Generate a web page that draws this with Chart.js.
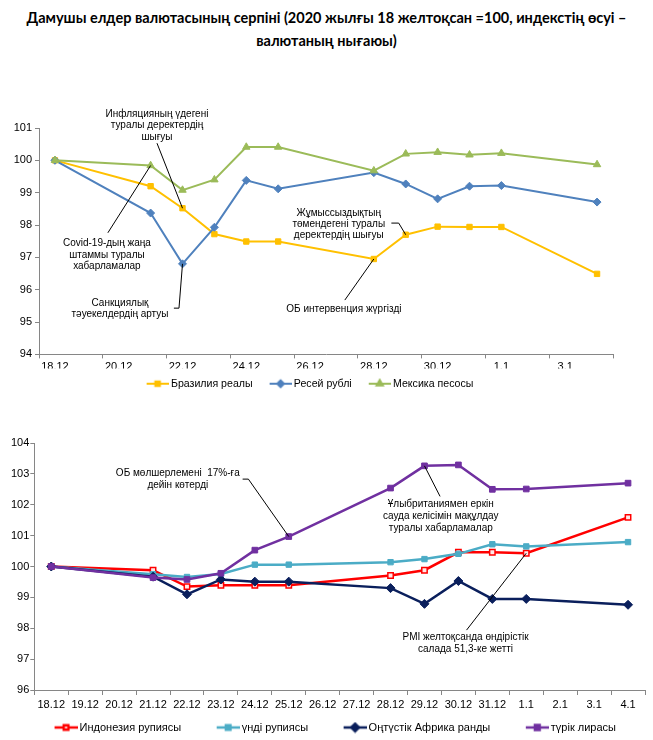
<!DOCTYPE html>
<html>
<head>
<meta charset="utf-8">
<script src="https://cdn.jsdelivr.net/npm/chart.js@4.4.1/dist/chart.umd.min.js"></script>
<style>
html,body{margin:0;padding:0;background:#fff;overflow:hidden;}
#wrap{position:relative;width:653px;height:740px;overflow:hidden;background:#fff;}
#title{position:absolute;left:0;top:6px;width:653px;text-align:center;font-family:Lato,"Noto Sans",sans-serif;font-weight:bold;font-size:15px;line-height:23px;color:#000;white-space:nowrap;}
#box1{position:absolute;left:0;top:95px;width:653px;height:304px;}
#box2{position:absolute;left:0;top:425px;width:653px;height:318px;}
</style>
</head>
<body>
<div id="wrap">
  <div id="title"><span id="t1">Дамушы елдер валютасының серпіні (2020 жылғы 18 желтоқсан =100, индекстің өсуі –</span><br><span id="t2">валютаның нығаюы)</span></div>
  <div id="box1"><canvas id="c1"></canvas></div>
  <div id="box2"><canvas id="c2"></canvas></div>
</div>
<script>
// ---------- DATA ----------
const axisDays = ['18.12','19.12','20.12','21.12','22.12','23.12','24.12','25.12','26.12','27.12','28.12','29.12','30.12','31.12','1.1','2.1','3.1','4.1'];
const obsDates = ['18.12','21.12','22.12','23.12','24.12','25.12','28.12','29.12','30.12','31.12','1.1','4.1'];
const topTickLabels = ['18.12','20.12','22.12','24.12','26.12','28.12','30.12','1.1','3.1'];

const topNames = ['Бразилия реалы','Ресей рублі','Мексика песосы'];
const brlReal  = [100.00, 99.20, 98.52, 97.72, 97.49, 97.49, 96.95, 97.70, 97.95, 97.94, 97.94, 96.49];
const rubRuble = [100.00, 98.37, 96.80, 97.93, 99.38, 99.12, 99.62, 99.27, 98.81, 99.20, 99.22, 98.71];
const mxnPeso  = [100.00, 99.84, 99.08, 99.40, 100.41, 100.41, 99.68, 100.20, 100.25, 100.17, 100.22, 99.87];

const bottomNames = ['Индонезия рупиясы','үнді рупиясы','Оңтүстік Африка ранды','түрік лирасы'];
const idrRupiah = [100.00, 99.88, 99.35, 99.39, 99.39, 99.39, 99.71, 99.88, 100.46, 100.46, 100.43, 101.59];
const inrRupee  = [100.00, 99.75, 99.66, 99.76, 100.06, 100.06, 100.14, 100.24, 100.41, 100.72, 100.65, 100.79];
const zarRand   = [100.00, 99.67, 99.10, 99.58, 99.51, 99.51, 99.30, 98.79, 99.53, 98.95, 98.95, 98.76];
const tryLira   = [100.00, 99.64, 99.58, 99.78, 100.53, 100.97, 102.54, 103.26, 103.29, 102.50, 102.51, 102.70];

const topYRange = [94, 101];
const bottomYRange = [96, 104];

// ---------- annotations (text in scale units, leader ends on a data point) ----------
const topNotes = [
  {lines:['Инфляцияның үдегені','туралы деректердің','шығуы'], at:[3.20,101.07], path:[[3.20,100.53]], series:0, date:'22.12'},
  {lines:['Covid-19-дың жаңа','штаммы туралы','хабарламалар'], at:[1.63,97.08], path:[[1.66,97.76]], series:2, date:'21.12'},
  {lines:['Санкциялық','тәуекелдердің артуы'], at:[2.04,95.415], path:[[3.73,95.43],[3.89,95.43]], series:1, date:'22.12'},
  {lines:['Жұмыссыздықтың','төмендегені туралы','деректердің шығуы'], at:[8.90,98.03], path:[[10.55,98.06],[10.78,98.06]], series:0, date:'29.12'},
  {lines:['ОБ интервенция жүргізді'], at:[9.06,95.41], path:[[9.09,95.68]], series:0, date:'28.12'}
];
const bottomNotes = [
  {lines:['ОБ мөлшерлемені  17%-ға','дейін көтерді'], at:[3.73,102.81], path:[[5.64,102.83],[5.81,102.83]], series:3, date:'25.12'},
  {lines:['Ұлыбританиямен еркін','сауда келісімін мақұлдау','туралы хабарламалар'], at:[11.48,101.63], path:[[11.46,102.27]], series:3, date:'29.12'},
  {lines:['PMI желтоқсанда өндірістік','салада 51,3-ке жетті'], at:[12.21,97.50], path:[[12.24,97.94]], series:0, date:'1.1'}
];

// ---------- helpers ----------
const FONT = '"Liberation Sans", Arial, sans-serif';
const axisColor = '#868686';

// fit title width to reference
(function(){
  const t1 = document.getElementById('t1');
  const w = t1.getBoundingClientRect().width;
  const fs = 15 * 600 / w;
  document.getElementById('title').style.fontSize = fs.toFixed(2) + 'px';
})();

function makeNotes(items, font, lh) {
  return {
    id: 'notes',
    afterDatasetsDraw(chart) {
      const xs = chart.scales.x, ys = chart.scales.y, ctx = chart.ctx;
      ctx.save();
      ctx.font = font; ctx.fillStyle = '#000'; ctx.textAlign = 'center'; ctx.textBaseline = 'middle';
      ctx.strokeStyle = '#000'; ctx.lineWidth = 1;
      items.forEach(n => {
        const el = chart.getDatasetMeta(n.series).data[obsDates.indexOf(n.date)];
        const pts = n.path.map(p => [xs.getPixelForValue(p[0]), ys.getPixelForValue(p[1])]);
        pts.push([el.x, el.y]);
        ctx.beginPath();
        ctx.moveTo(pts[0][0], pts[0][1]);
        for (let i = 1; i < pts.length; i++) ctx.lineTo(pts[i][0], pts[i][1]);
        ctx.stroke();
        const cx = xs.getPixelForValue(n.at[0]), cy = ys.getPixelForValue(n.at[1]);
        n.lines.forEach((t, k) => ctx.fillText(t, cx, cy + (k - (n.lines.length - 1) / 2) * lh));
      });
      ctx.restore();
    }
  };
}

function legendIcon(color, style, radius, fill, lineW, Wi, markerW) {
  const c = document.createElement('canvas');
  c.width = Wi; c.height = 12;
  const g = c.getContext('2d');
  const x0 = Wi - markerW;
  g.strokeStyle = color; g.lineWidth = lineW;
  g.beginPath(); g.moveTo(x0, 6); g.lineTo(Wi, 6); g.stroke();
  g.fillStyle = fill; g.strokeStyle = color;
  Chart.helpers.drawPoint(g, {pointStyle: style, radius: radius, borderWidth: 1}, x0 + markerW / 2, 6);
  return c;
}

function series(name, values, color, style, radius, fill, lw, n, i) {
  return {
    label: name,
    data: obsDates.map((d, k) => ({x: d, y: values[k]})),
    borderColor: color, backgroundColor: fill,
    borderWidth: lw, tension: 0,
    pointStyle: style, pointRadius: radius, pointHoverRadius: radius,
    pointBackgroundColor: fill, pointBorderColor: color, pointBorderWidth: 1,
    order: n - i
  };
}

function legendOpts(icons, W, fs) {
  return {
    position: 'bottom',
    labels: {
      usePointStyle: true, pointStyleWidth: W, boxHeight: 11, padding: 10,
      color: '#000', font: {family: FONT, size: fs},
      sort: (a, b) => a.datasetIndex - b.datasetIndex,
      generateLabels(chart) {
        const items = Chart.defaults.plugins.legend.labels.generateLabels(chart);
        items.forEach(it => { it.pointStyle = icons[it.datasetIndex]; });
        return items;
      }
    }
  };
}

// ---------- top chart ----------
const topStyles = [
  ['#FFC000','rect',3.8,'#FFC000'],
  ['#4F81BD','rectRot',4,'#4F81BD'],
  ['#9BBB59','triangle',4.3,'#9BBB59']
];
const topVals = [brlReal, rubRuble, mxnPeso];
const topIcons = topStyles.map(s => legendIcon(s[0], s[1], s[2] * 0.85, s[3], 2, 26 + 6, 22));

new Chart(document.getElementById('c1'), {
  type: 'line',
  data: {
    labels: axisDays,
    datasets: topVals.map((v, i) => series(topNames[i], v, topStyles[i][0], topStyles[i][1], topStyles[i][2], topStyles[i][3], 2, 3, i))
  },
  options: {
    responsive: true, maintainAspectRatio: false, animation: false,
    layout: {padding: {left: 0, right: 40, top: 33, bottom: 0}},
    plugins: {legend: legendOpts(topIcons, 26, 10.6), tooltip: {enabled: false}, title: {display: false}},
    scales: {
      x: {
        type: 'category', offset: true,
        grid: {offset: true, drawOnChartArea: false, drawTicks: true, tickLength: 4, color: axisColor,
               tickColor: c => (c.index === undefined || c.index % 2 === 0) ? axisColor : 'rgba(0,0,0,0)'},
        border: {display: true, color: axisColor},
        ticks: {autoSkip: false, maxRotation: 0, padding: 2, color: '#000', font: {family: FONT, size: 11},
                callback: (v, i) => topTickLabels.includes(axisDays[i]) ? axisDays[i] : ''},
        afterFit: s => { s.height = 14; }
      },
      y: {
        min: topYRange[0], max: topYRange[1],
        grid: {drawOnChartArea: false, drawTicks: true, tickLength: 4, color: axisColor},
        border: {display: true, color: axisColor},
        ticks: {stepSize: 1, padding: 3, color: '#000', font: {family: FONT, size: 11}},
        afterFit: s => { s.width = 39; }
      }
    }
  },
  plugins: [makeNotes(topNotes, '10px ' + FONT, 11.3)]
});

// ---------- bottom chart ----------
const botStyles = [
  ['#FF0000','rect',3.8,'#FFE8E8'],
  ['#4BACC6','rect',3.8,'#4BACC6'],
  ['#0A1F5C','rectRot',4.5,'#0A1F5C'],
  ['#7030A0','rect',4,'#7030A0']
];
const botVals = [idrRupiah, inrRupee, zarRand, tryLira];
const botIcons = botStyles.map(s => legendIcon(s[0], s[1], s[2] * 0.85, s[3], 2.5, 45 + 7, 23));

new Chart(document.getElementById('c2'), {
  type: 'line',
  data: {
    labels: axisDays,
    datasets: botVals.map((v, i) => {
      const d = series(bottomNames[i], v, botStyles[i][0], botStyles[i][1], botStyles[i][2], botStyles[i][3], 2.5, 4, i);
      if (i === 0) d.pointBorderWidth = 1.5;
      return d;
    })
  },
  options: {
    responsive: true, maintainAspectRatio: false, animation: false,
    layout: {padding: {left: 0, right: 8, top: 18, bottom: 0}},
    plugins: {legend: legendOpts(botIcons, 45, 11), tooltip: {enabled: false}, title: {display: false}},
    scales: {
      x: {
        type: 'category', offset: true,
        grid: {offset: true, drawOnChartArea: false, drawTicks: true, tickLength: 5, color: axisColor},
        border: {display: true, color: axisColor},
        ticks: {autoSkip: false, maxRotation: 0, padding: 3, color: '#000', font: {family: FONT, size: 11}},
        afterFit: s => { s.height = 22; }
      },
      y: {
        min: bottomYRange[0], max: bottomYRange[1],
        grid: {drawOnChartArea: false, drawTicks: true, tickLength: 4, color: axisColor},
        border: {display: true, color: axisColor},
        ticks: {stepSize: 1, padding: 1, color: '#000', font: {family: FONT, size: 11}},
        afterFit: s => { s.width = 34.3; }
      }
    }
  },
  plugins: [makeNotes(bottomNotes, '10px ' + FONT, 12)]
});
</script>
</body>
</html>
